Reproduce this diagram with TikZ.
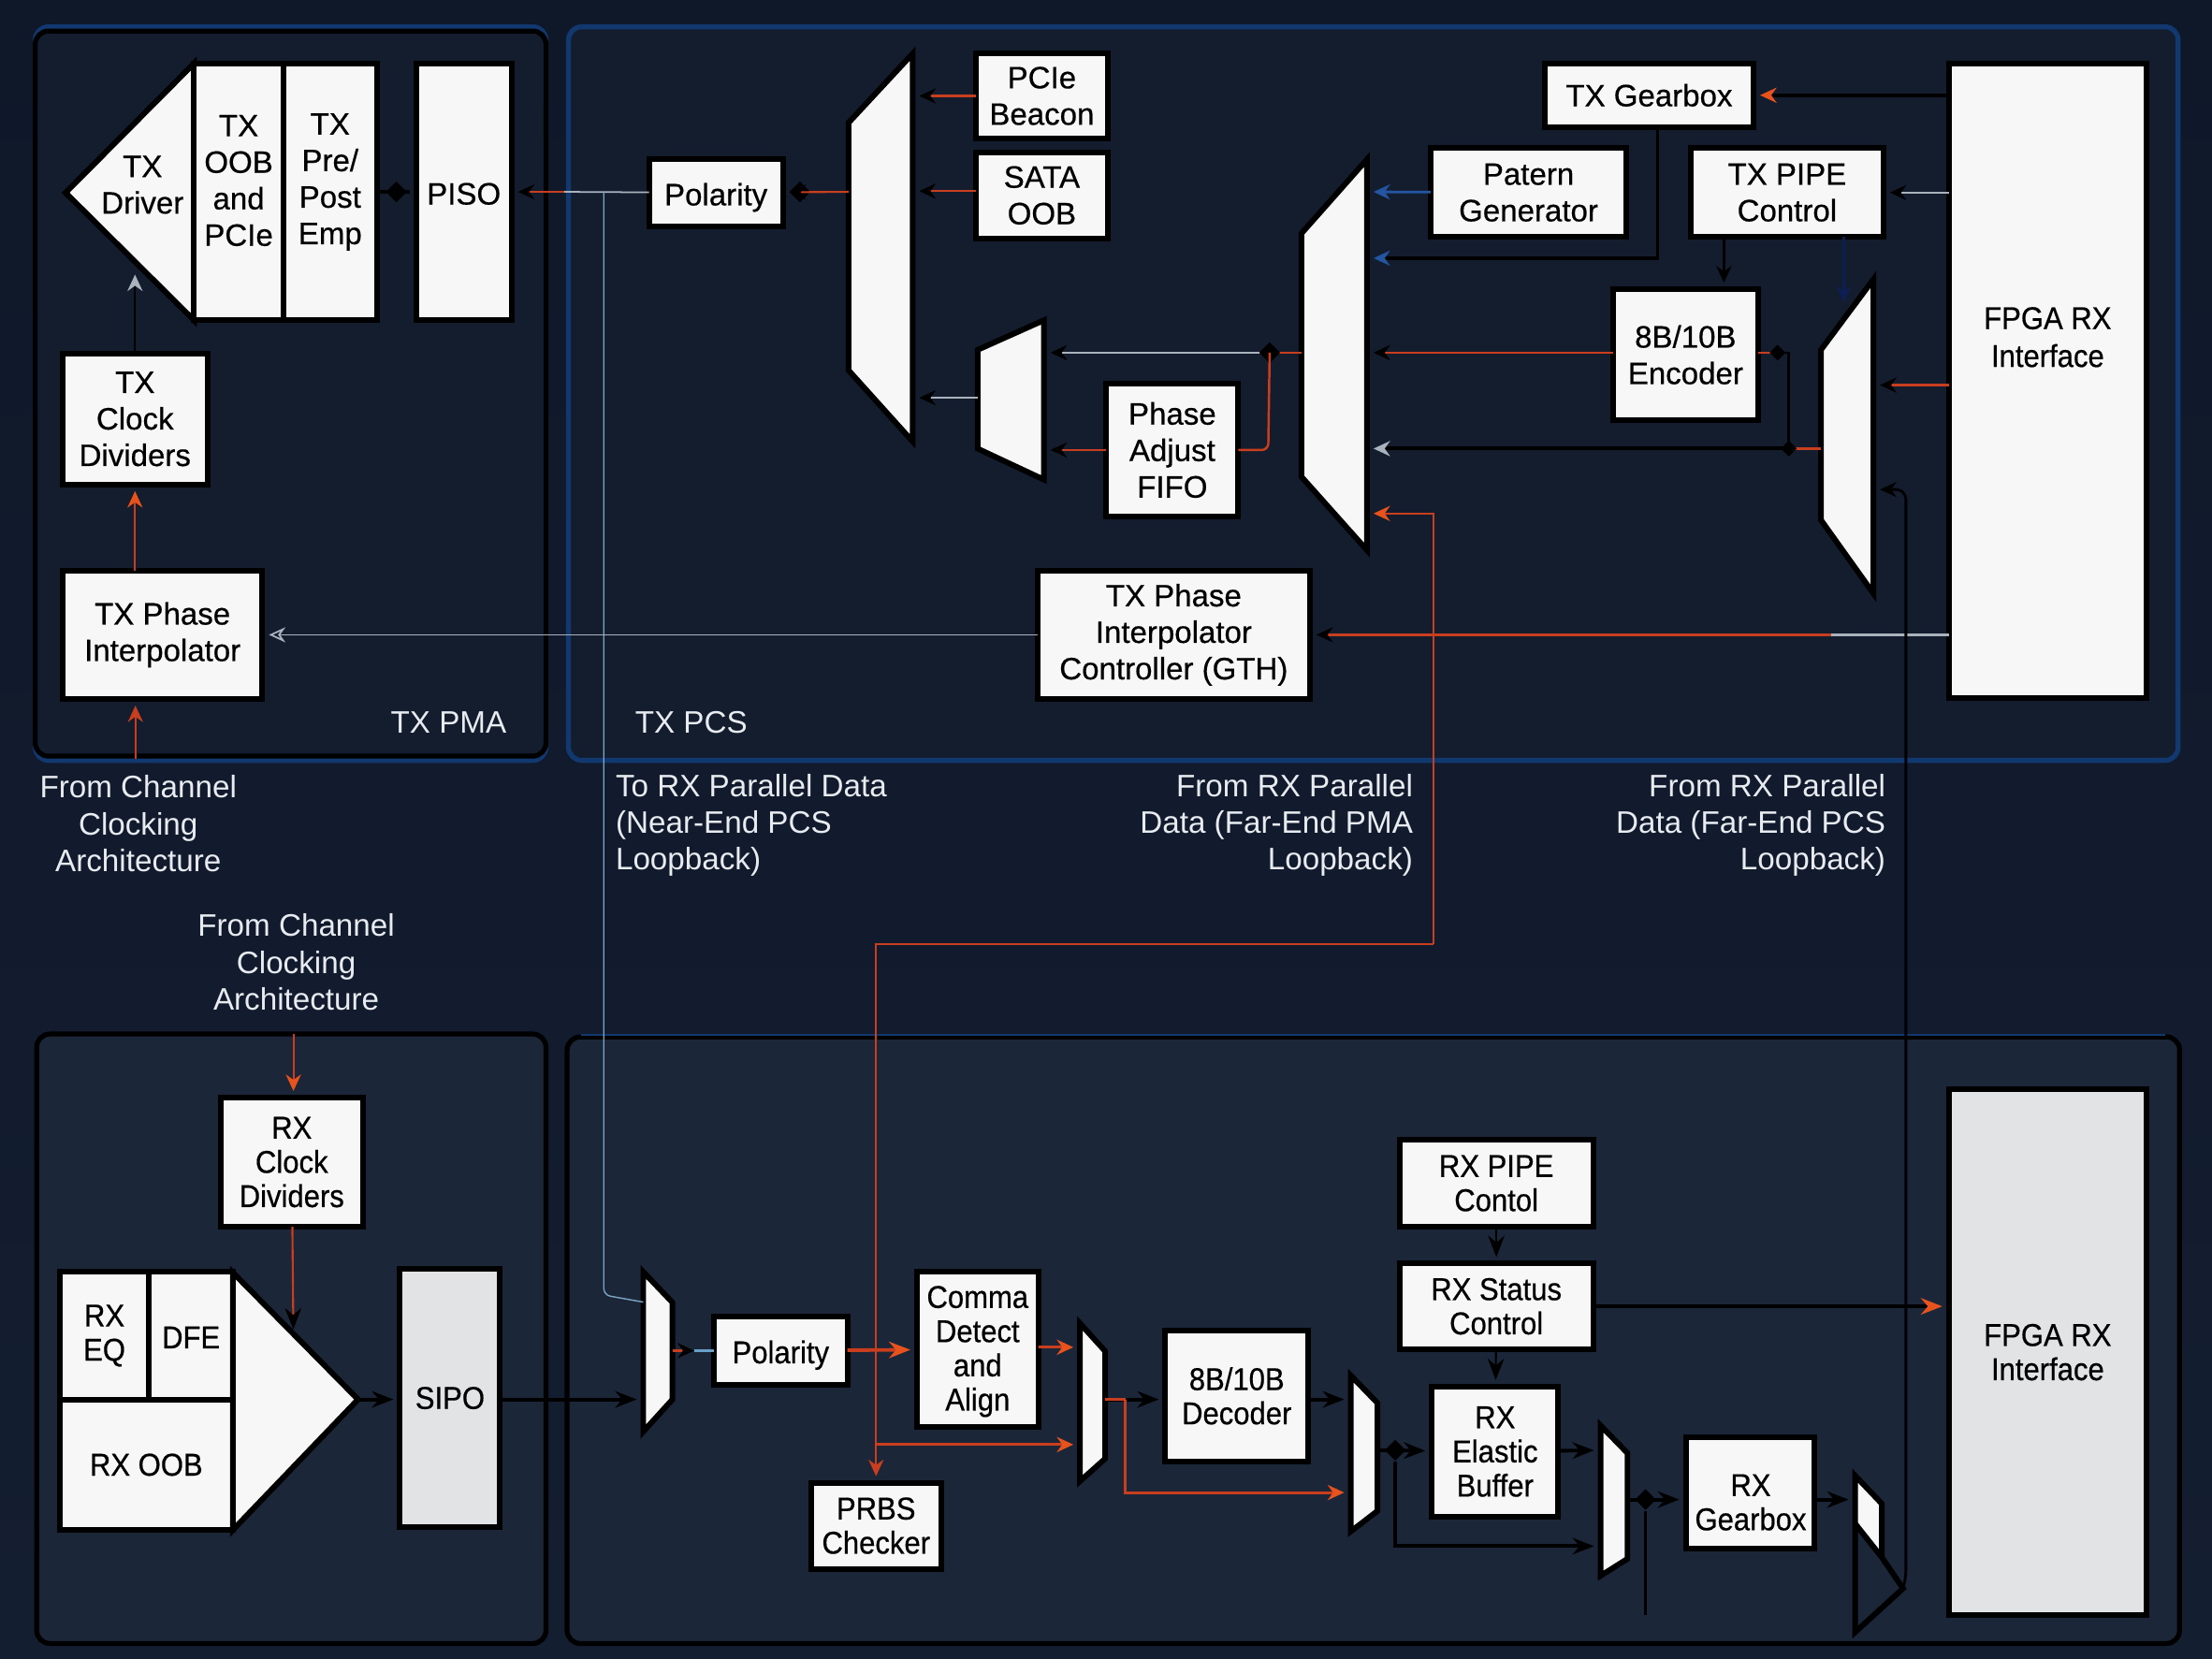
\documentclass[tikz,border=0pt]{standalone}
\usepackage{fontspec}
\setmainfont{Liberation Sans}
\newfontfamily\letraBloque[FakeBold=0.5]{Liberation Sans}
\newfontfamily\letraEstrecha[FakeBold=0.5,FakeStretch=0.92]{Liberation Sans}
\usepackage{xcolor}
\definecolor{fondoA}{RGB}{15, 24, 41}
\definecolor{fondoB}{RGB}{20, 30, 49}
\definecolor{panelTx}{RGB}{20, 29, 46}
\definecolor{panelRx}{RGB}{27, 38, 56}
\definecolor{azulBorde}{RGB}{18, 56, 112}
\definecolor{azulLinea}{RGB}{35, 85, 160}
\definecolor{azulOscuro}{RGB}{14, 30, 84}
\definecolor{celeste}{RGB}{105, 160, 200}
\definecolor{rojo}{RGB}{200, 62, 30}
\definecolor{naranja}{RGB}{232, 82, 28}
\definecolor{gris}{RGB}{170, 178, 190}
\definecolor{blanco}{RGB}{247, 247, 247}
\definecolor{grisBloque}{RGB}{226, 227, 229}
\definecolor{letra}{RGB}{232, 236, 240}
\usetikzlibrary{arrows.meta,shapes,calc,positioning}
\tikzstyle{edge}  =[shorten >=2pt, line width=0.6pt]
\tikzstyle{wedge} =[shorten >=2pt, line width=1.1pt]
\tikzstyle{tramo} =[line width=0.7pt]
\tikzstyle{bloque}=[rectangle, draw=black, fill=blanco, line width=1.7pt,
                    inner sep=0pt, outer sep=0pt, align=center, text=black,
                    font=\letraBloque\fontsize{9.4}{11.1}\selectfont]
\tikzstyle{mux}   =[draw=black, fill=blanco, line width=1.7pt, line join=miter]
\tikzstyle{panel} =[line width=1.5pt, rounded corners=4pt]
\tikzstyle{rotulo}=[inner sep=0pt, align=center, text=letra,
                    font=\fontsize{9.45}{11.2}\selectfont]
\tikzstyle{junta} =[diamond, fill=black, minimum size=6.5pt, inner sep=0pt]
\tikzset{
    wh/.style 2 args={minimum width=#1*0.15077mm, minimum height=#2*0.15077mm},
    estrecho/.style={font=\letraEstrecha\fontsize{9.6}{10.4}\selectfont},
    dentro/.style={inner sep=0pt, align=center, text=black},
    linea/.style={text height=7.7pt, text depth=0pt},
    punta/.style={-{Stealth[length=5pt,width=4.6pt,#1]}},
    grande/.style={-{Stealth[length=6.5pt,width=5pt,#1]}},
    abierta/.style={-{Stealth[length=5pt,width=4.6pt,open,#1]}}
}

\begin{document}
\begin{tikzpicture}[x=0.15077mm,y=-0.15077mm]

    \useasboundingbox (0,0) rectangle (1568,1176);
    \fill[top color=fondoA,bottom color=fondoB] (0,0) rectangle (1568,1176);

    \begin{scope}
        \draw[panel,azulBorde,fill=panelTx] (25,19) rectangle (387,539);
        \draw[panel,black] (25,22) rectangle (387,536);
        \draw[panel,azulBorde,fill=panelTx] (403,19) rectangle (1544,539);
        \draw[panel,black,fill=panelRx] (26,733) rectangle (387,1165);
        \draw[panel,black,fill=panelRx] (402,735) rectangle (1545,1165);
        \draw[azulBorde,line width=0.7pt] (412,733.5) -- (1535,733.5);
    \end{scope}

    \begin{scope}
        \draw[mux] (46.5,136.6) -- (137.5,45) -- (137.5,227) -- cycle;
        \draw (101,131) node (txdrv) [dentro,font=\letraBloque\fontsize{9.4}{11.1}\selectfont] {TX\\Driver};
        \draw (169.2,136) node (txoob) [bloque,wh={63.5}{182}] {};
        \draw (169.2,128) node (txoobt) [dentro,font=\letraBloque\fontsize{9.4}{11.1}\selectfont] {TX\\OOB\\and\\PCIe};
        \draw (234,136) node (txpre) [bloque,wh={66}{182}] {};
        \draw (234,129) node (txpret) [dentro,font=\letraBloque\fontsize{9.4}{11.1}\selectfont] {TX\\Pre/\\Post\\Emp};
        \draw (328.8,136) node (piso) [bloque,linea,wh={67.5}{182}] {PISO};
        \draw (95.7,297) node (txclk) [bloque,wh={102.6}{93}] {TX\\Clock\\Dividers};
        \draw (115.2,450) node (txpi) [bloque,wh={141.6}{91}] {TX Phase\\Interpolator};

        \draw (318,512) node (lblpma) [rotulo] {TX PMA};
        \draw (490,512) node (lblpcs) [rotulo] {TX PCS};
        \draw (507.5,136.6) node (txpol) [bloque,linea,wh={95}{48}] {Polarity};
        \draw (738.5,68) node (pcie) [bloque,wh={93}{60}] {PCIe\\Beacon};
        \draw (738.5,138.5) node (sata) [bloque,wh={93}{61}] {SATA\\OOB};
        \draw (1169,67.5) node (txgear) [bloque,wh={148}{45}] {TX Gearbox};
        \draw (1083.5,136.5) node (patern) [bloque,wh={139}{63}] {Patern\\Generator};
        \draw (1266.8,136.5) node (txpipe) [bloque,wh={136.4}{63}] {TX PIPE\\Control};
        \draw (1194.8,251.5) node (enc) [bloque,wh={102.4}{93}] {8B/10B\\Encoder};
        \draw (831,319) node (fifo) [bloque,wh={93.5}{94}] {Phase\\Adjust\\FIFO};
        \draw (832,450) node (txpic) [bloque,wh={193}{91}] {TX Phase\\Interpolator\\Controller (GTH)};
        \draw (1451.5,270) node (fpgatx) [bloque,wh={140}{450}] {};
        \draw (1451.5,239) node (fpgatxt) [dentro,font=\letraEstrecha\fontsize{9.6}{11.5}\selectfont] {FPGA RX\\Interface};

        \draw[mux] (601.5,87) -- (647,38) -- (647,313) -- (601.5,262.5) -- cycle;
        \draw[mux] (693,248) -- (740,227) -- (740,340) -- (693,318) -- cycle;
        \draw[mux] (922.6,165.4) -- (969,113) -- (969,390) -- (922.6,338) -- cycle;
        \draw[mux] (1290.8,248) -- (1328,198) -- (1328,420.7) -- (1290.8,368.6) -- cycle;

        \coordinate (m1a) at (647,68);
        \coordinate (m1b) at (647,135.5);
        \coordinate (m1c) at (647,282);
        \coordinate (m1s) at (601.5,136);
        \coordinate (m2a) at (969,136);
        \coordinate (m2b) at (969,183);
        \coordinate (m2c) at (969,250);
        \coordinate (m2d) at (969,318);
        \coordinate (m2e) at (969,364);
        \coordinate (m2s) at (922.6,250);
        \coordinate (m3a) at (740,250);
        \coordinate (m3b) at (740,319);
        \coordinate (m3s) at (693,282);
        \coordinate (m4a) at (1328,273);
        \coordinate (m4b) at (1328,347);
        \coordinate (m4c) at (1307,226);
        \coordinate (m4s) at (1290.8,318);
    \end{scope}

    \begin{scope}
        \draw (206.8,823.8) node (rxclk) [bloque,estrecho,wh={100.5}{91.6}] {RX\\Clock\\Dividers};
        \draw (74,946.8) node (rxeq) [bloque,estrecho,wh={63.4}{90.4}] {RX\\EQ};
        \draw (135.4,946.8) node (dfe) [bloque,estrecho,linea,wh={59.3}{90.4}] {DFE};
        \draw (103.7,1038.3) node (rxoob) [bloque,estrecho,wh={122.7}{92.6}] {RX OOB};
        \draw[mux] (165,902) -- (253.8,992) -- (165,1084.6) -- cycle;
        \coordinate (rxtip) at (253.8,992);
        \coordinate (rxtop) at (208,947);
        \draw (319,991) node (sipo) [bloque,estrecho,fill=grisBloque,wh={71}{183}] {SIPO};
    \end{scope}

    \begin{scope}
        \draw (553.4,957.4) node (rxpol) [bloque,estrecho,linea,wh={94.7}{48.8}] {Polarity};
        \draw (693,956.5) node (comma) [bloque,wh={86}{110}] {};
        \draw (693,958) node (commat) [dentro,font=\letraEstrecha\fontsize{9.6}{10.4}\selectfont] {Comma\\Detect\\and\\Align};
        \draw (621,1081.5) node (prbs) [bloque,estrecho,wh={92}{61}] {PRBS\\Checker};
        \draw (876.7,989.5) node (dec) [bloque,estrecho,wh={101.3}{93}] {8B/10B\\Decoder};
        \draw (1060.7,838.8) node (rxpipe) [bloque,estrecho,wh={137.4}{61.5}] {RX PIPE\\Contol};
        \draw (1060.7,926) node (status) [bloque,estrecho,wh={137.4}{60.6}] {RX Status\\Control};
        \draw (1059.8,1029) node (elastic) [bloque,estrecho,wh={89.6}{92.3}] {RX\\Elastic\\Buffer};
        \draw (1240.5,1058.4) node (rxgear) [bloque,wh={91}{78.7}] {};
        \draw (1241,1065) node (rxgeart) [dentro,font=\letraEstrecha\fontsize{9.6}{10.4}\selectfont] {RX\\Gearbox};
        \draw (1451.5,958.5) node (fpgarx) [bloque,fill=grisBloque,estrecho,wh={140}{373}] {FPGA RX\\Interface};

        \draw[mux] (456,901.6) -- (476.7,923.3) -- (476.7,992) -- (456,1014.8) -- cycle;
        \draw[mux] (765.5,938) -- (783.4,957.8) -- (783.4,1034) -- (765.5,1050) -- cycle;
        \draw[mux] (957.5,975) -- (976.5,994.6) -- (976.5,1071) -- (957.5,1085.6) -- cycle;
        \draw[mux] (1134.6,1010.5) -- (1153.6,1030) -- (1153.6,1105) -- (1134.6,1117) -- cycle;
        \fill[blanco] (1315,1046) -- (1334,1066) -- (1334,1105) -- (1315,1080) -- cycle;
        \draw[mux,fill=none] (1334,1104) -- (1334,1066) -- (1315,1046) -- (1315,1157) -- (1349,1126) -- (1334,1104) -- (1315,1080);

        \coordinate (r1a) at (456,923);
        \coordinate (r1b) at (456,992);
        \coordinate (r1s) at (476.7,957.4);
        \coordinate (r2a) at (765.5,955);
        \coordinate (r2b) at (765.5,1024);
        \coordinate (r2s) at (783.4,992);
        \coordinate (r3a) at (957.5,992);
        \coordinate (r3b) at (957.5,1058);
        \coordinate (r3s) at (976.5,1028);
        \coordinate (r4a) at (1134.6,1028);
        \coordinate (r4b) at (1134.6,1096);
        \coordinate (r4s) at (1153.6,1063);
        \coordinate (r5a) at (1315,1063);
        \coordinate (r5s) at (1349,1126);
    \end{scope}

    \draw (98,584) node (lblch1) [rotulo] {From Channel\\Clocking\\Architecture};
    \draw (210,682) node (lblch2) [rotulo] {From Channel\\Clocking\\Architecture};
    \draw (436,585) node (lblnear) [rotulo,anchor=west,align=left] {To RX Parallel Data\\(Near-End PCS\\Loopback)};
    \draw (1002,585) node (lblpma2) [rotulo,anchor=east,align=right] {From RX Parallel\\Data (Far-End PMA\\Loopback)};
    \draw (1337,585) node (lblpcs2) [rotulo,anchor=east,align=right] {From RX Parallel\\Data (Far-End PCS\\Loopback)};

    \coordinate (chin1) at (96,538);
    \coordinate (chin2) at (208,733);
    \draw [edge,rojo,punta=rojo] (chin1) -- (chin1 |- txpi.south);
    \draw [edge,rojo,punta=naranja] (txpi.north -| txclk) -- (txclk);
    \draw [edge,black,punta=gris] (txclk) -- (95.7,190);
    \draw [edge,rojo,punta=naranja] (chin2) -- (chin2 |- rxclk.north);

    \coordinate (ja) at (428,136);
    \coordinate (jb) at (400,136);
    \coordinate (jc) at (900,250);
    \coordinate (jd) at (1268,318);
    \coordinate (je) at (1260,250);
    \coordinate (jg) at (1298,450);
    \coordinate (jh) at (492,957.4);

    \draw [tramo,gris,line width=0.5pt] (txpol) -- (jb);
    \draw [edge,rojo,punta=black] (jb) -- (piso);
    \draw [tramo,celeste!70!gris,line width=0.4pt,rounded corners=2pt] (ja) -- (428,918) -- (r1a);

    \node (pisotx) [junta] at (281,136) {};
    \draw [wedge,black] (txpre) -- (piso);
    \node (polm1) [junta] at (567,136) {};
    \draw [edge,rojo,punta=black] (m1s) -- (txpol);

    \draw [edge,rojo,punta=black] (pcie.west) -- (m1a);
    \draw [edge,rojo,punta=black] (sata.west |- m1b) -- (m1b);
    \draw [edge,gris,punta=black] (m3s) -- (m1c);

    \draw [tramo,rojo] (m2s) -- (jc);
    \draw [edge,gris,line width=0.7pt,punta=black] (jc) -- (m3a);
    \node (j2) [junta,minimum size=6.5pt] at (jc) {};
    \draw [tramo,rojo,rounded corners=2pt] (jc) -- (899,319) -- (fifo);
    \draw [edge,rojo,punta=black] (fifo) -- (m3b);

    \draw [edge,azulLinea,line width=0.8pt,punta=azulLinea] (patern) -- (m2a);
    \draw [wedge,black,punta=azulLinea] (txgear.south -| 1175,0) |- (m2b);
    \draw [edge,rojo,punta=black,line width=0.8pt] (enc.west |- m2c) -- (m2c);
    \draw [tramo,rojo,line width=0.9pt] (m4s) -- (jd);
    \draw [wedge,black,punta=gris] (jd) -- (m2d);
    \node (j3) [junta,minimum size=5pt] at (jd) {};
    \draw [tramo,rojo,line width=0.8pt] (enc.east |- je) -- (je);
    \draw [tramo,black,line width=0.8pt] (je) -| (jd);
    \node (j4) [junta,minimum size=5pt] at (je) {};

    \draw [wedge,black,punta=naranja] (fpgatx.west |- txgear) -- (txgear);
    \draw [edge,gris,punta=black] (fpgatx.west |- txpipe) -- (txpipe);
    \draw [edge,black,line width=0.8pt,punta=black] (1222,168) -- (enc.north -| 1222,0);
    \draw [tramo,azulOscuro,line width=0.8pt,shorten >=5pt,punta=azulOscuro] (1307,168) -- (m4c);
    \draw [edge,rojo,line width=0.8pt,punta=black] (fpgatx.west |- m4a) -- (m4a);

    \draw [tramo,gris] (fpgatx.west |- txpic) -- (jg);
    \draw [edge,rojo,line width=0.7pt,punta=black] (jg) -- (txpic);
    \draw [edge,gris,line width=0.5pt,abierta=gris] (txpic) -- (txpi);

    \draw [edge,rojo,punta=naranja] (1016,669) |- (m2e);
    \draw [edge,rojo,punta=rojo] (1016,669) -| (prbs.north);
    \draw [edge,rojo,line width=0.9pt,punta=naranja] (621,1024) -- (r2b);

    \draw [edge,black,line width=0.8pt,rounded corners=3pt,punta=black] (r5s) -- (1351,1120) -- (1351,347) -- (m4b);

    \draw [edge,rojo,grande=black] (rxclk) -- (rxtop);
    \draw [wedge,black,grande=black] (rxtip) -- (sipo.west |- rxtip);
    \draw [wedge,black,grande=black] (sipo.east |- r1b) -- (r1b);
    \draw [edge,rojo,line width=0.9pt,shorten >=0pt,punta=black] (r1s) -- (jh);
    \draw [tramo,celeste] (jh) -- (rxpol);
    \draw [wedge,rojo,grande=naranja] (rxpol) -- (comma);
    \draw [edge,black,grande=black] (rxpipe) -- (status);
    \draw [edge,black,grande=black] (status) -- (elastic);
    \draw [wedge,black,grande=naranja] (status) -- (fpgarx.west |- status);
    \draw [edge,rojo,line width=0.9pt,punta=naranja] (comma.east |- r2a) -- (r2a);
    \draw [wedge,black,grande=black] (r2s) -- (dec.west |- r2s);
    \draw [tramo,rojo,line width=0.9pt] (r2s) -- (797.7,992);
    \draw [edge,rojo,line width=0.9pt,punta=naranja] (797.7,992) |- (r3b);
    \draw [wedge,black,grande=black] (dec.east |- r3a) -- (r3a);
    \draw [wedge,black,grande=black] (r3s) -- (elastic);
    \node (j5) [junta] at (989,1028) {};
    \draw [wedge,black,grande=black] (j5) |- (r4b);
    \draw [wedge,black,grande=black] (elastic) -- (r4a);
    \draw [wedge,black,grande=black] (r4s) -- (rxgear.west |- r4s);
    \node (j6) [junta] at (1166.4,1063) {};
    \draw [tramo,black] (j6) -- (1166.4,1145);
    \draw [wedge,black,grande=black] (rxgear.east |- r5a) -- (r5a);

\end{tikzpicture}
\end{document}
